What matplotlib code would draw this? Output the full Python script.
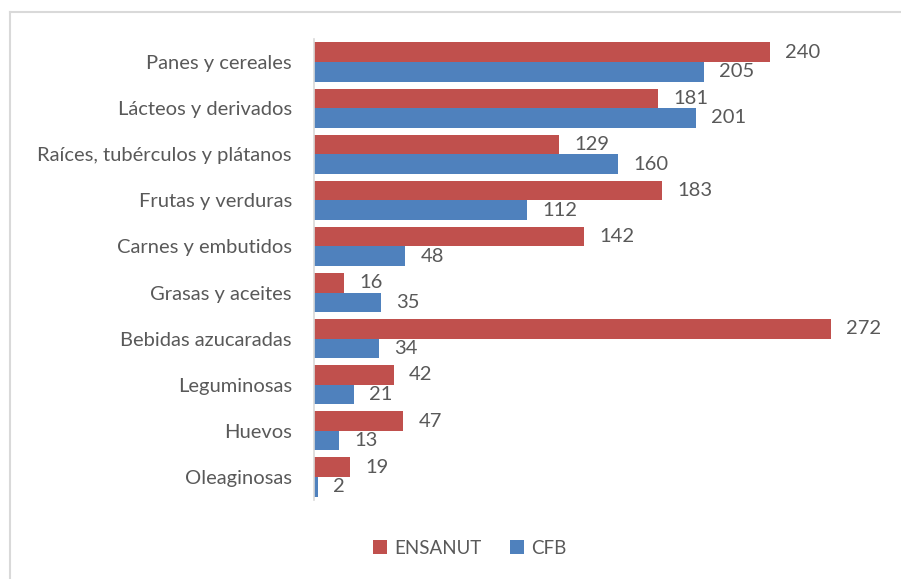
import numpy as np
import matplotlib.pyplot as plt
from matplotlib.lines import Line2D

categories = ["Panes y cereales", "Lácteos y derivados", "Raíces, tubérculos y plátanos",
              "Frutas y verduras", "Carnes y embutidos", "Grasas y aceites",
              "Bebidas azucaradas", "Leguminosas", "Huevos", "Oleaginosas"]
ensanut = [240, 181, 129, 183, 142, 16, 272, 42, 47, 19]
cfb = [205, 201, 160, 112, 48, 35, 34, 21, 13, 2]

red = "#C0504D"
blue = "#4F81BD"
gray = "#595959"

plt.rcParams['font.family'] = ['Lato', 'DejaVu Sans']

fig = plt.figure(figsize=(9.01, 5.79), dpi=100)
ax = fig.add_axes([314 / 901, 1 - 500 / 579, 570 / 901, 461 / 579])

y = np.arange(len(categories))
h = 0.425
ax.barh(y - h / 2, ensanut, height=h, color=red, label="ENSANUT")
ax.barh(y + h / 2, cfb, height=h, color=blue, label="CFB")

# value labels
for i in range(len(categories)):
    ax.annotate(str(ensanut[i]), (ensanut[i], y[i] - h / 2), xytext=(11, 0),
                textcoords="offset points", va="center", ha="left", fontsize=14.5, color=gray)
    ax.annotate(str(cfb[i]), (cfb[i], y[i] + h / 2), xytext=(11, 0),
                textcoords="offset points", va="center", ha="left", fontsize=14.5, color=gray)

ax.set_xlim(0, 300)
ax.set_ylim(len(categories) - 0.5, -0.5)
ax.set_yticks(y)
ax.set_yticklabels(categories, fontsize=14.5, color=gray)
ax.tick_params(axis="y", length=0, pad=16)
ax.set_xticks([])
for s in ["top", "right", "bottom"]:
    ax.spines[s].set_visible(False)
ax.spines["left"].set_color("#D9D9D9")
ax.spines["left"].set_linewidth(1.2)

fig.legend(loc="center", bbox_to_anchor=(470 / 901, 1 - 548 / 579), ncol=2, frameon=False,
           fontsize=13.5, labelcolor=gray, handlelength=0.75, handleheight=0.75,
           handletextpad=0.4, columnspacing=1.5)

# outer chart border (top and left visible)
fig.add_artist(Line2D([10 / 901, 10 / 901], [0, 1 - 12 / 579], color="#D9D9D9", lw=1.5))
fig.add_artist(Line2D([10 / 901, 1], [1 - 12 / 579, 1 - 12 / 579], color="#D9D9D9", lw=1.5))

fig.savefig("out.png", dpi=100, facecolor="white")
